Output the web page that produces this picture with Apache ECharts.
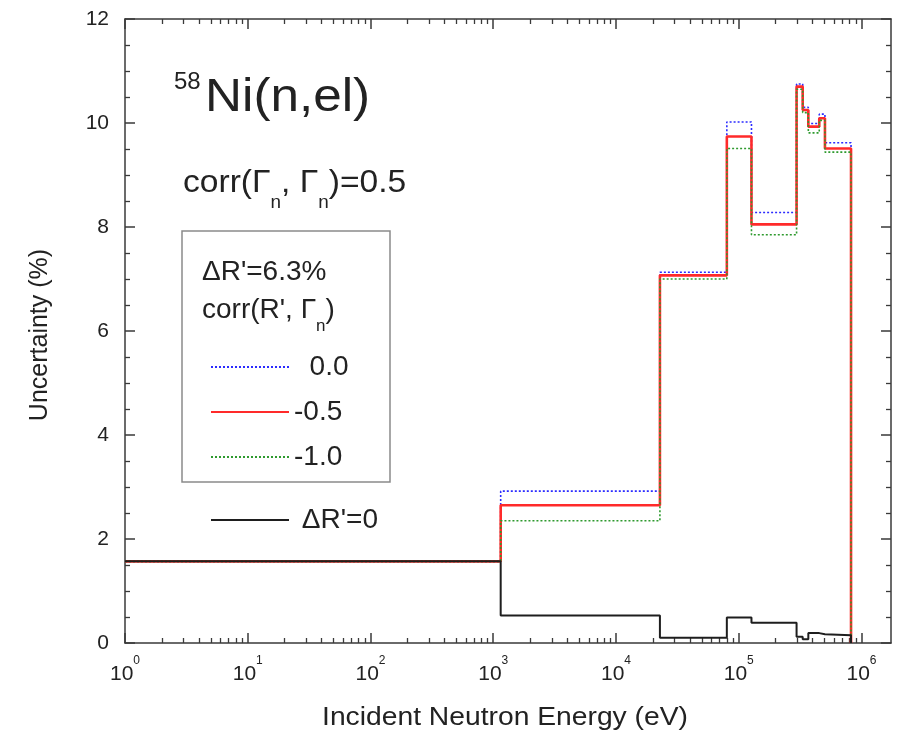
<!DOCTYPE html>
<html><head><meta charset="utf-8">
<script src="https://cdn.jsdelivr.net/npm/echarts@6/dist/echarts.min.js"></script>
<style>html,body{margin:0;padding:0;background:#fff}#c{width:903px;height:735px}</style>
</head><body><div id="c"></div>
<script>
// bin edges (eV) of the step curves
const energyEdges = [1, 1150, 22800, 80000, 127000, 296000, 332000, 369000, 453000, 504000, 822000];
// uncertainty (%) per bin
const corr0   = [1.57, 2.92, 7.13, 10.02, 8.28, 10.75, 10.30, 9.99, 10.17, 9.62];
const corrM05 = [1.57, 2.65, 7.07, 9.74, 8.05, 10.70, 10.25, 9.93, 10.09, 9.51];
const corrM10 = [1.57, 2.35, 7.00, 9.51, 7.85, 10.65, 10.20, 9.81, 10.05, 9.44];
const dRzero  = [1.57, 0.53, 0.10, 0.49, 0.39, 0.12, 0.07, 0.19, 0.17, 0.15];
const seriesNames = ['0.0', '-0.5', '-1.0', "ΔR'=0"];
const xMajor = [1, 10, 100, 1000, 10000, 100000, 1000000];
const xMin = 1, xMax = 1.74e6;

const xMinor = [];
xMajor.forEach(p => { for (let k = 2; k <= 9; k++) { if (p * k < xMax) xMinor.push(p * k); } });

function stepData(vals) {
  const d = vals.map((v, i) => [energyEdges[i], v]);
  d.push([energyEdges[energyEdges.length - 1], 0]);
  return d;
}
const FONT = "'Liberation Sans', Arial, sans-serif";
const TXT = '#222';
const AX = '#3a3a3a';

const chart = echarts.init(document.getElementById('c'));
const baseX = {
  type: 'log', logBase: 10, min: xMin, max: xMax, gridIndex: 0,
  splitLine: {show: false}
};
chart.setOption({
  animation: false,
  backgroundColor: '#fff',
  grid: {left: 125, top: 19, right: 12, bottom: 92, containLabel: false},
  xAxis: [
    Object.assign({}, baseX, {
      position: 'bottom',
      axisLine: {show: true, lineStyle: {color: AX, width: 1.5}},
      axisTick: {show: true, inside: true, length: 10, lineStyle: {color: AX, width: 1.5}, customValues: xMajor},
      axisLabel: {
        show: true, margin: 12, customValues: xMajor,
        formatter: v => '{b|10}{s|' + Math.round(Math.log10(v)) + '}',
        rich: {
          b: {fontSize: 21, fontFamily: FONT, color: TXT, lineHeight: 30, verticalAlign: 'bottom'},
          s: {fontSize: 12, fontFamily: FONT, color: TXT, lineHeight: 30, verticalAlign: 'top'}
        }
      }
    }),
    Object.assign({}, baseX, {
      position: 'bottom',
      axisLine: {show: false},
      axisTick: {show: true, inside: true, length: 5, lineStyle: {color: AX, width: 1.3}, customValues: xMinor},
      axisLabel: {show: false}
    }),
    Object.assign({}, baseX, {
      position: 'top',
      axisLine: {show: true, lineStyle: {color: AX, width: 1.5}},
      axisTick: {show: true, inside: true, length: 10, lineStyle: {color: AX, width: 1.5}, customValues: xMajor},
      axisLabel: {show: false}
    }),
    Object.assign({}, baseX, {
      position: 'top',
      axisLine: {show: false},
      axisTick: {show: true, inside: true, length: 5, lineStyle: {color: AX, width: 1.3}, customValues: xMinor},
      axisLabel: {show: false}
    })
  ],
  yAxis: [
    {
      type: 'value', min: 0, max: 12, interval: 2, position: 'left',
      splitLine: {show: false},
      axisLine: {show: true, lineStyle: {color: AX, width: 1.5}},
      axisTick: {show: true, inside: true, length: 10, lineStyle: {color: AX, width: 1.5}},
      minorTick: {show: true, splitNumber: 4, length: 5, lineStyle: {color: AX, width: 1.3}},
      axisLabel: {fontSize: 21, fontFamily: FONT, color: TXT, margin: 16}
    },
    {
      type: 'value', min: 0, max: 12, interval: 2, position: 'right',
      splitLine: {show: false},
      axisLine: {show: true, lineStyle: {color: AX, width: 1.5}},
      axisTick: {show: true, inside: true, length: 10, lineStyle: {color: AX, width: 1.5}},
      minorTick: {show: true, splitNumber: 4, length: 5, lineStyle: {color: AX, width: 1.3}},
      axisLabel: {show: false}
    }
  ],
  legend: [
    {
      data: seriesNames.slice(0, 3), orient: 'vertical', left: 205, top: 347,
      itemWidth: 78, itemHeight: 14, itemGap: 15, selectedMode: false,
      itemStyle: {opacity: 0},
      formatter: n => (n === '0.0' ? '  ' + n : n),
      textStyle: {fontSize: 28, fontFamily: FONT, color: TXT, lineHeight: 30}
    },
    {
      data: [seriesNames[3]], orient: 'vertical', left: 205, top: 500,
      itemWidth: 78, itemHeight: 14, selectedMode: false,
      itemStyle: {opacity: 0},
      formatter: n => ' ' + n,
      textStyle: {fontSize: 28, fontFamily: FONT, color: TXT, lineHeight: 30}
    }
  ],
  graphic: [
    {type: 'text', x: 174, y: 70, style: {text: '58', font: '24px ' + FONT, fill: TXT, textVerticalAlign: 'top'}},
    {type: 'text', x: 205, y: 98, scaleX: 1.09, style: {text: 'Ni(n,el)', font: '47px ' + FONT, fill: TXT, textVerticalAlign: 'middle'}},
    {type: 'text', x: 183, y: 183, scaleX: 1.05, style: {
      text: '{a|corr(Γ}{s|n}{a|, Γ}{s|n}{a|)=0.5}', textVerticalAlign: 'middle',
      rich: {
        a: {fontSize: 32, fontFamily: FONT, fill: TXT, lineHeight: 58, verticalAlign: 'middle'},
        s: {fontSize: 18, fontFamily: FONT, fill: TXT, lineHeight: 18, verticalAlign: 'bottom'}
      }
    }},
    {type: 'rect', shape: {x: 182, y: 231, width: 208, height: 251}, style: {fill: 'none', stroke: '#8a8a8a', lineWidth: 1.5}},
    {type: 'text', x: 202, y: 272, style: {text: "ΔR'=6.3%", font: '28px ' + FONT, fill: TXT, textVerticalAlign: 'middle'}},
    {type: 'text', x: 202, y: 310, style: {
      text: "{a|corr(R', Γ}{s|n}{a|)}", textVerticalAlign: 'middle',
      rich: {
        a: {fontSize: 28, fontFamily: FONT, fill: TXT, lineHeight: 50, verticalAlign: 'middle'},
        s: {fontSize: 17, fontFamily: FONT, fill: TXT, lineHeight: 17, verticalAlign: 'bottom'}
      }
    }},
    {type: 'text', x: 505, y: 718, scaleX: 1.13, style: {text: 'Incident Neutron Energy (eV)', font: '25px ' + FONT, fill: TXT, textAlign: 'center', textVerticalAlign: 'middle'}},
    {type: 'text', x: 40, y: 335, rotation: Math.PI / 2, style: {text: 'Uncertainty (%)', font: '25px ' + FONT, fill: TXT, textAlign: 'center', textVerticalAlign: 'middle'}}
  ],
  series: [
    {name: seriesNames[0], type: 'line', step: 'end', data: stepData(corr0), symbol: 'none', xAxisIndex: 0, yAxisIndex: 0,
      lineStyle: {color: '#2b2bff', width: 1.6, type: [2, 2]}, itemStyle: {color: '#2b2bff'}},
    {name: seriesNames[1], type: 'line', step: 'end', data: stepData(corrM05), symbol: 'none', xAxisIndex: 0, yAxisIndex: 0,
      lineStyle: {color: '#ff2a2a', width: 2.6}, itemStyle: {color: '#ff2a2a'}},
    {name: seriesNames[2], type: 'line', step: 'end', data: stepData(corrM10), symbol: 'none', xAxisIndex: 0, yAxisIndex: 0,
      lineStyle: {color: '#2e9a2e', width: 1.6, type: [2, 2]}, itemStyle: {color: '#2e9a2e'}},
    {name: seriesNames[3], type: 'line', step: 'end', data: stepData(dRzero), symbol: 'none', xAxisIndex: 0, yAxisIndex: 0,
      lineStyle: {color: '#1e1e1e', width: 2}, itemStyle: {color: '#1e1e1e'}}
  ]
});
</script>
</body></html>
